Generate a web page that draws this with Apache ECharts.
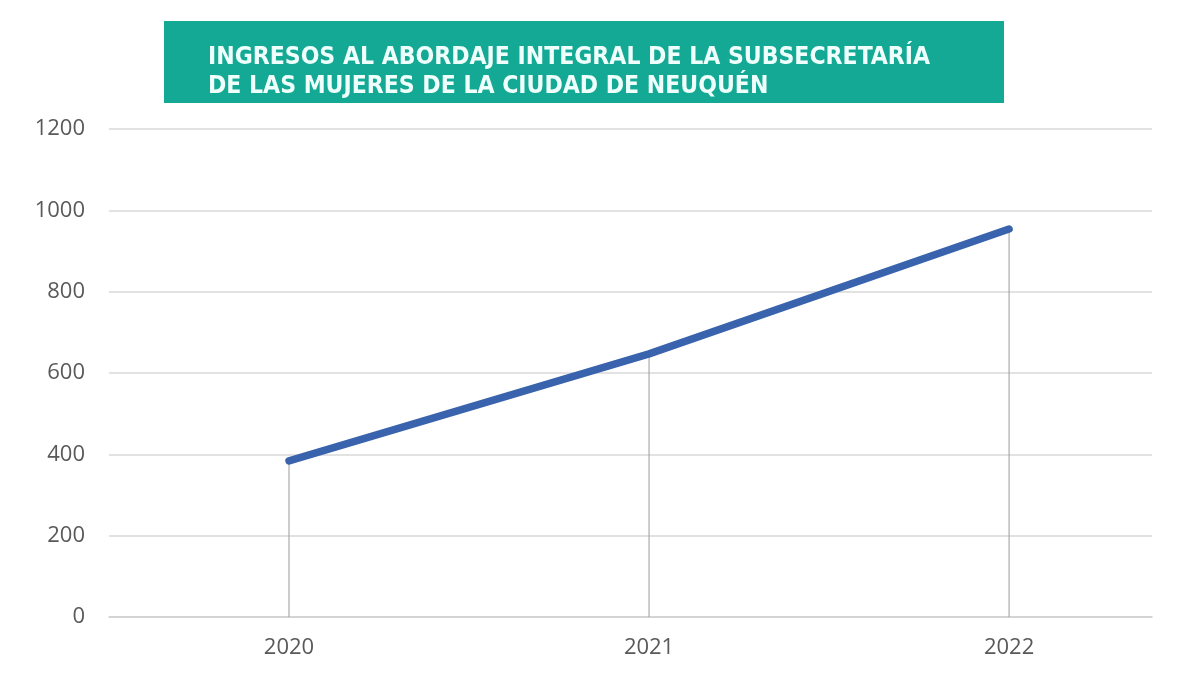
<!DOCTYPE html>
<html>
<head>
<meta charset="utf-8">
<script src="https://cdn.jsdelivr.net/npm/echarts@6/dist/echarts.min.js"></script>
<style>
  html, body { margin: 0; padding: 0; background: #fff; }
  #chart { width: 1201px; height: 679px; }
</style>
</head>
<body>
<div id="chart"></div>
<script>
// datos
const years = [2020, 2021, 2022]
const ingresos = [384, 647, 954]
const yTicks = [0, 200, 400, 600, 800, 1000, 1200]
const titleLines = [
  'INGRESOS AL ABORDAJE INTEGRAL DE LA SUBSECRETARÍA',
  'DE LAS MUJERES DE LA CIUDAD DE NEUQUÉN'
]

const points = years.map((y, i) => [y, ingresos[i]])

const chart = echarts.init(document.getElementById('chart'))
chart.setOption({
  animation: false,
  backgroundColor: '#fff',
  graphic: [
    {
      type: 'rect', left: 164, top: 21, z: 0,
      shape: { width: 840, height: 82 },
      style: { fill: '#13a994' }
    }
  ],
  title: {
    text: titleLines.join('\n'),
    left: 203, top: 38,
    textStyle: {
      color: '#effffb', fontSize: 24.5, fontWeight: 'bold', lineHeight: 29,
      fontFamily: '"Liberation Sans Narrow", "DejaVu Sans Condensed", sans-serif'
    }
  },
  grid: { left: 109, right: 49, top: 129, bottom: 62, containLabel: false },
  xAxis: {
    type: 'value',
    min: 2019.5, max: 2022.397, interval: 0.5,
    axisLine: { show: true, lineStyle: { color: '#d0d0d0', width: 1.5 } },
    axisTick: { show: false },
    splitLine: { show: false },
    axisLabel: {
      color: '#595959', fontSize: 22, fontFamily: '"Open Sans", sans-serif', margin: 20,
      showMinLabel: false, showMaxLabel: false,
      formatter: (v) => (Number.isInteger(v) && years.includes(v) ? String(v) : '')
    }
  },
  yAxis: {
    type: 'value',
    min: yTicks[0], max: yTicks[yTicks.length - 1], interval: 200,
    axisLine: { show: false },
    axisTick: { show: false },
    splitLine: { lineStyle: { color: '#d9d9d9', width: 1.5 } },
    axisLabel: {
      color: '#595959', fontSize: 22, fontFamily: '"Open Sans", sans-serif', margin: 24,
      formatter: (v) => String(v)
    }
  },
  series: [
    {
      name: 'líneas', type: 'bar', barWidth: 1, z: 1,
      itemStyle: { color: '#9a9a9a' },
      data: points
    },
    {
      name: 'Ingresos', type: 'line', z: 3,
      symbol: 'none',
      lineStyle: { color: '#3a63ad', width: 7.5, cap: 'round', join: 'round' },
      data: points
    }
  ]
})
</script>
</body>
</html>
